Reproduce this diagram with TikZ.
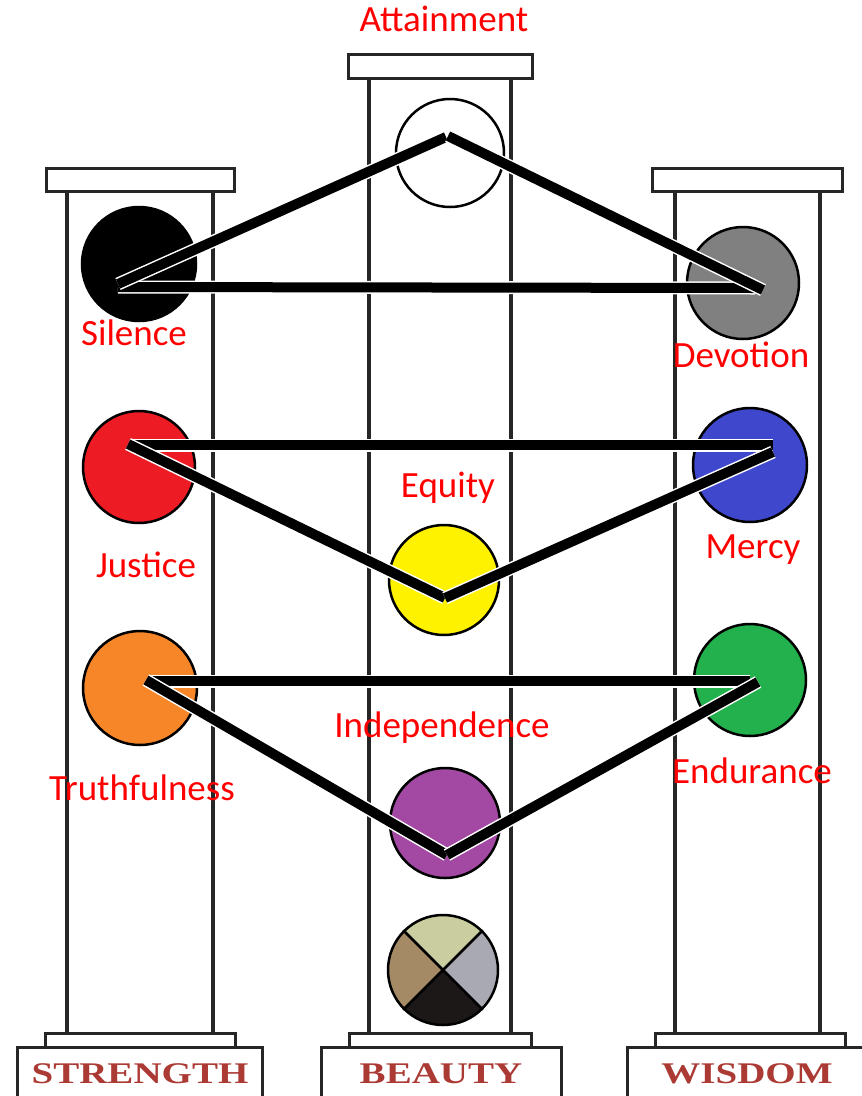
\documentclass[tikz,border=0pt]{standalone}
\usepackage{fontspec}
\setmainfont{Carlito}
\newfontfamily\basefont{Liberation Serif}
\definecolor{lblred}{RGB}{255,0,0}
\definecolor{basered}{RGB}{172,58,52}
\definecolor{cgray}{RGB}{128,128,128}
\definecolor{cred}{RGB}{237,28,36}
\definecolor{cblue}{RGB}{63,72,204}
\definecolor{cyellow}{RGB}{255,242,0}
\definecolor{corange}{RGB}{247,134,40}
\definecolor{cgreen}{RGB}{34,177,76}
\definecolor{cpurple}{RGB}{163,73,164}
\definecolor{qtop}{RGB}{201,205,160}
\definecolor{qright}{RGB}{169,169,179}
\definecolor{qbottom}{RGB}{28,24,24}
\definecolor{qleft}{RGB}{165,138,102}
\tikzset{
  colline/.style={line width=3.5pt, draw=black!85},
  capbox/.style={line width=3pt, draw=black!85, fill=white},
  ball/.style={circle, draw=black, line width=2.5pt, inner sep=0pt},
  bar/.style={line width=10pt, line cap=butt, preaction={draw=white, line width=13pt}},
  lbl/.style={text=lblred, font=\fontsize{37}{40}\selectfont, anchor=base, inner sep=0pt},
  basetxt/.style={text=basered, font=\basefont\bfseries\fontsize{30}{32}\selectfont, anchor=base, inner sep=0pt}
}
\begin{document}
\begin{tikzpicture}[x=1pt,y=-1pt]
\useasboundingbox (0,0) rectangle (862,1096);
% ---------- columns ----------
% left
\draw[colline] (67,191) -- (67,1033);
\draw[colline] (213,191) -- (213,1033);
\draw[capbox] (46,168) rectangle (234,191);
\draw[capbox] (45,1033) rectangle (235,1047);
\draw[capbox] (17,1047) rectangle (262,1110);
% center
\draw[colline] (369,78) -- (369,1033);
\draw[colline] (511,78) -- (511,1033);
\draw[capbox] (348,54) rectangle (532,78);
\draw[capbox] (349,1033) rectangle (531,1047);
\draw[capbox] (321,1047) rectangle (561,1110);
% right
\draw[colline] (675,191) -- (675,1033);
\draw[colline] (820,191) -- (820,1033);
\draw[capbox] (652,168) rectangle (842,191);
\draw[capbox] (655,1033) rectangle (845,1047);
\draw[capbox] (627,1047) rectangle (880,1110);
% ---------- base labels ----------
\node[basetxt] (strength) at (140,1083) {\scalebox{1.3}[1]{STRENGTH}};
\node[basetxt] (beauty) at (441,1083) {\scalebox{1.3}[1]{BEAUTY}};
\node[basetxt] (wisdom) at (747,1083) {\scalebox{1.3}[1]{WISDOM}};
% ---------- circles ----------
\node[ball, fill=white, minimum size=108pt] (att) at (450,153) {};
\node[ball, fill=black, minimum size=114pt] (sil) at (139,264) {};
\node[ball, fill=cgray, minimum size=112pt] (dev) at (743,283) {};
\node[ball, fill=cred, minimum size=112pt] (jus) at (139,467) {};
\node[ball, fill=cblue, minimum size=114pt] (mer) at (750,465) {};
\node[ball, fill=cyellow, minimum size=110pt] (equ) at (444,580) {};
\node[ball, fill=corange, minimum size=114pt] (tru) at (140,688) {};
\node[ball, fill=cgreen, minimum size=112pt] (end) at (750,680) {};
\node[ball, fill=cpurple, minimum size=110pt] (ind) at (445,823) {};
% quartered circle
\coordinate (qc) at (443,970);
\fill[qtop] (qc) -- +(-38.9,-38.9) arc[start angle=225, end angle=315, radius=55] -- cycle;
\fill[qright] (qc) -- +(38.9,-38.9) arc[start angle=315, end angle=405, radius=55] -- cycle;
\fill[qbottom] (qc) -- +(38.9,38.9) arc[start angle=45, end angle=135, radius=55] -- cycle;
\fill[qleft] (qc) -- +(-38.9,38.9) arc[start angle=135, end angle=225, radius=55] -- cycle;
\node[ball, minimum size=110pt] (quad) at (qc) {};
\draw[line width=2.5pt] (quad.north west) -- (quad.south east);
\draw[line width=2.5pt] (quad.north east) -- (quad.south west);
% ---------- connector end points ----------
\coordinate (a1) at (446,137);
\coordinate (a2) at (448,136);
\coordinate (s1) at (118,284);
\coordinate (s2) at (118,287);
\coordinate (d1) at (763,290);
\coordinate (d2) at (755,288);
\coordinate (j1) at (130,445);
\coordinate (j2) at (128,444);
\coordinate (m1) at (773,445);
\coordinate (m2) at (773,452);
\coordinate (e1) at (445,598);
\coordinate (t1) at (150,681);
\coordinate (t2) at (146,680);
\coordinate (n1) at (750,681);
\coordinate (n2) at (758,682);
\coordinate (i1) at (447,855);
% ---------- connectors ----------
\draw[bar] (s2) -- (d2);
\draw[bar] (s1) -- (a1);
\draw[bar] (a2) -- (d1);
\draw[bar] (j1) -- (m1);
\draw[bar] (j2) -- (e1);
\draw[bar] (e1) -- (m2);
\draw[bar] (t1) -- (n1);
\draw[bar] (t2) -- (i1);
\draw[bar] (i1) -- (n2);
% ---------- labels ----------
\node[lbl] (lAtt) at (444,31) {Attainment};
\node[lbl] (lSil) at (134,345) {Silence};
\node[lbl] (lDev) at (741,367) {Devotion};
\node[lbl] (lJus) at (146,577) {Justice};
\node[lbl] (lMer) at (753,558) {Mercy};
\node[lbl] (lEqu) at (448,497) {Equity};
\node[lbl] (lTru) at (142,800) {Truthfulness};
\node[lbl] (lInd) at (442,737) {Independence};
\node[lbl] (lEnd) at (752,783) {Endurance};
\end{tikzpicture}
\end{document}
